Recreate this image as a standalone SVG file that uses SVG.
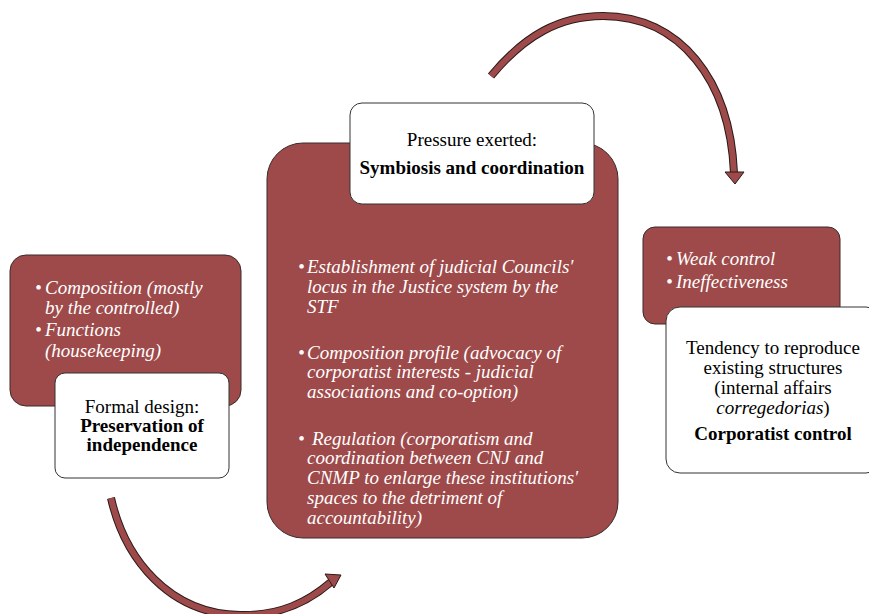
<svg xmlns="http://www.w3.org/2000/svg" width="869" height="614" viewBox="0 0 869 614">
<style>
.red{fill:#9e4a4a;stroke:#3a2a2a;stroke-width:1}
.white{fill:#ffffff;stroke:#333;stroke-width:1}
.it{font-family:"Liberation Serif",serif;font-style:italic;font-size:19px;fill:#ffffff}
.rg{font-family:"Liberation Serif",serif;font-size:19px;fill:#000}
.bd{font-family:"Liberation Serif",serif;font-size:19px;font-weight:bold;fill:#000}
.shaftO{fill:none;stroke:#2a1a1a;stroke-width:8}
.shaftI{fill:none;stroke:#9e4a4a;stroke-width:6}
.head{fill:#9e4a4a;stroke:#2a1a1a;stroke-width:1}
</style>
<g id="left-red"><rect class="red" x="10" y="255" width="231" height="151" rx="16"/>
<text class="it"><tspan x="35" y="294">•</tspan><tspan x="45" y="294">Composition (mostly</tspan><tspan x="45" y="314">by the controlled)</tspan><tspan x="35" y="336">•</tspan><tspan x="45" y="336">Functions</tspan><tspan x="45" y="357">(housekeeping)</tspan></text></g>
<g id="left-white"><rect class="white" x="55" y="373" width="174" height="105" rx="10"/>
<text text-anchor="middle"><tspan class="rg" x="142" y="413">Formal design:</tspan><tspan class="bd" x="142" y="432">Preservation of</tspan><tspan class="bd" x="142" y="451">independence</tspan></text></g>
<g id="center-red"><rect class="red" x="267" y="143" width="351" height="395" rx="36"/>
<text class="it"><tspan x="298" y="273">•</tspan><tspan x="307" y="273">Establishment of judicial Councils'</tspan><tspan x="307" y="293">locus in the Justice system by the</tspan><tspan x="307" y="313">STF</tspan><tspan x="298" y="359">•</tspan><tspan x="307" y="359">Composition profile (advocacy of</tspan><tspan x="307" y="378">corporatist interests - judicial</tspan><tspan x="307" y="398">associations and co-option)</tspan><tspan x="298" y="445">•</tspan><tspan x="312" y="445">Regulation (corporatism and</tspan><tspan x="307" y="464">coordination between CNJ and</tspan><tspan x="307" y="484">CNMP to enlarge these institutions'</tspan><tspan x="307" y="504">spaces to the detriment of</tspan><tspan x="307" y="524">accountability)</tspan></text></g>
<g id="center-white"><rect class="white" x="350" y="103" width="244" height="101" rx="12"/>
<text text-anchor="middle"><tspan class="rg" x="472" y="146">Pressure exerted:</tspan><tspan class="bd" x="472" y="174">Symbiosis and coordination</tspan></text></g>
<g id="right-red"><rect class="red" x="643" y="227" width="197" height="97" rx="12"/>
<text class="it"><tspan x="666" y="265">•</tspan><tspan x="676" y="265">Weak control</tspan><tspan x="666" y="288">•</tspan><tspan x="676" y="288">Ineffectiveness</tspan></text></g>
<g id="right-white"><rect class="white" x="666" y="307" width="214" height="166" rx="14"/>
<text text-anchor="middle"><tspan class="rg" x="773" y="354">Tendency to reproduce</tspan><tspan class="rg" x="773" y="374">existing structures</tspan><tspan class="rg" x="773" y="394">(internal affairs</tspan><tspan class="rg" x="773" y="414"><tspan font-style="italic">corregedorias</tspan>)</tspan><tspan class="bd" x="773" y="440">Corporatist control</tspan></text></g>
<g id="connectors">
<path class="shaftO" d="M491,76 C525,35 560,16 603,16 C680,16 730,80 734,173"/>
<path class="shaftI" d="M491,76 C525,35 560,16 603,16 C680,16 730,80 734,173"/>
<polygon class="head" points="725,172 744,172 735,184"/>
<path class="shaftO" d="M111,498 C125,560 170,614 240,615 C280,616 308,602 331,582"/>
<path class="shaftI" d="M111,498 C125,560 170,614 240,615 C280,616 308,602 331,582"/>
<polygon class="head" points="325,574 334,588 341,575"/>
</g>
</svg>
